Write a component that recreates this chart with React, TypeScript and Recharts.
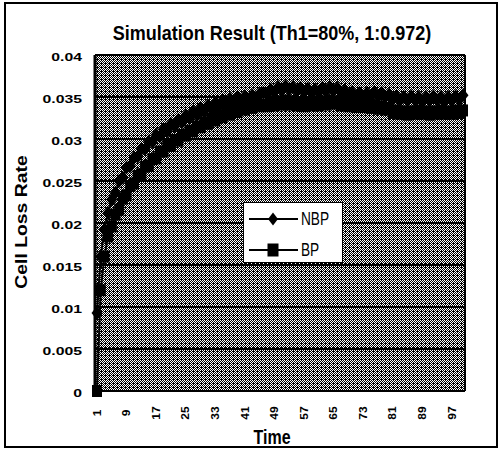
import React from 'react';
import { LineChart, Line, XAxis, YAxis, CartesianGrid, Legend, Customized } from 'recharts';

const title = 'Simulation Result (Th1=80%, 1:0.972)';
const xTitle = 'Time';
const yTitle = 'Cell Loss Rate';
const seriesNames = ['NBP', 'BP'];
const yTicks = [0, 0.005, 0.01, 0.015, 0.02, 0.025, 0.03, 0.035, 0.04];

const nbp = [
  0.0093, 0.016, 0.0192, 0.0212, 0.0228, 0.0236, 0.025, 0.0254, 0.0266, 0.0268,
  0.0278, 0.0279, 0.0288, 0.0288, 0.0297, 0.0296, 0.0305, 0.0303, 0.0312, 0.0309,
  0.0318, 0.0315, 0.0323, 0.032, 0.0328, 0.0325, 0.0333, 0.0329, 0.0337, 0.0333,
  0.034, 0.0336, 0.0343, 0.0339, 0.0346, 0.0341, 0.0348, 0.0343, 0.035, 0.0345,
  0.0351, 0.0347, 0.0352, 0.0349, 0.0354, 0.0355, 0.0353, 0.0359, 0.0356, 0.0362,
  0.0358, 0.0363, 0.0359, 0.0362, 0.0357, 0.0361, 0.0356, 0.036, 0.0355, 0.0359,
  0.0356, 0.0361, 0.0357, 0.0362, 0.0358, 0.0361, 0.0355, 0.0358, 0.0352, 0.0356,
  0.0351, 0.0355, 0.035, 0.0355, 0.0351, 0.0356, 0.0351, 0.0355, 0.035, 0.0353,
  0.0347, 0.0351, 0.0346, 0.035, 0.0346, 0.0351, 0.0346, 0.035, 0.0345, 0.035,
  0.0346, 0.0351, 0.0346, 0.035, 0.0345, 0.035, 0.0346, 0.0351, 0.0347, 0.0352,
];

const bp = [
  0.0, 0.012, 0.016, 0.0184, 0.0196, 0.021, 0.0216, 0.0229, 0.0233, 0.0244,
  0.0247, 0.0256, 0.0258, 0.0267, 0.0268, 0.0276, 0.0277, 0.0285, 0.0285, 0.0292,
  0.0292, 0.0299, 0.0298, 0.0305, 0.0304, 0.031, 0.0309, 0.0315, 0.0314, 0.032,
  0.0318, 0.0324, 0.0322, 0.0328, 0.0326, 0.0331, 0.0329, 0.0334, 0.0332, 0.0337,
  0.0335, 0.0339, 0.0337, 0.0341, 0.0339, 0.0341, 0.0339, 0.0343, 0.034, 0.0345,
  0.0341, 0.0346, 0.0341, 0.0345, 0.034, 0.0344, 0.0339, 0.0343, 0.034, 0.0344,
  0.034, 0.0345, 0.0341, 0.0346, 0.0342, 0.0345, 0.034, 0.0343, 0.0339, 0.0342,
  0.0338, 0.0341, 0.0338, 0.0341, 0.0337, 0.034, 0.0336, 0.0339, 0.0335, 0.0337,
  0.0331, 0.0334, 0.033, 0.0333, 0.0329, 0.0333, 0.033, 0.0334, 0.033, 0.0333,
  0.0329, 0.0333, 0.033, 0.0334, 0.033, 0.0333, 0.033, 0.0334, 0.0331, 0.0334,
];

const times = nbp.map((_, i) => i + 1);
const data = times.map((t, i) => ({ time: t, NBP: nbp[i], BP: bp[i] }));

const FONT = '"Liberation Sans", Arial, sans-serif';

function SText({ x, y, rot = 0, sx = 1, size, weight = 'bold', anchor = 'middle', children }: any) {
  return (
    <text
      transform={`translate(${x},${y}) rotate(${rot}) scale(${sx},1)`}
      textAnchor={anchor}
      dominantBaseline="central"
      fontSize={size}
      fontWeight={weight}
      fontFamily={FONT}
      fill="#000"
    >
      {children}
    </text>
  );
}

function Diamond({ cx, cy, w = 11, h = 14 }: any) {
  return <polygon points={`${cx},${cy - h / 2} ${cx + w / 2},${cy} ${cx},${cy + h / 2} ${cx - w / 2},${cy}`} fill="#000" />;
}
function Square({ cx, cy, w = 10, h = 12 }: any) {
  return <rect x={cx - w / 2} y={cy - h / 2} width={w} height={h} fill="#000" />;
}

const YTick = (props: any) => {
  const { x, y, payload } = props;
  return <SText x={x} y={y + 2} sx={1.5} size={10.5} anchor="end">{String(payload.value)}</SText>;
};
const XTick = (props: any) => {
  const { x, y, payload } = props;
  return <SText x={x} y={y + 22} rot={-90} sx={1.2} size={10}>{String(payload.value)}</SText>;
};

const LegendBox = () => (
  <div style={{ width: 98, height: 59, background: '#fff', border: '1px solid #000', position: 'relative' }}>
    <svg width={98} height={59} style={{ position: 'absolute', left: 0, top: 0 }}>
      <line x1={5} x2={54} y1={16} y2={16} stroke="#000" strokeWidth={2} />
      <Diamond cx={29} cy={16} w={10} h={13} />
      <SText x={57} y={16} sx={0.72} size={19} weight="normal" anchor="start">{seriesNames[0]}</SText>
      <line x1={5} x2={54} y1={47} y2={47} stroke="#000" strokeWidth={2} />
      <Square cx={29} cy={47} w={11} h={13} />
      <SText x={57} y={47} sx={0.72} size={19} weight="normal" anchor="start">{seriesNames[1]}</SText>
    </svg>
  </div>
);

const Decor = () => (
  <g>
    <rect x={5} y={3} width={492} height={444} fill="none" stroke="#000" strokeWidth={2} />
    <SText x={272} y={33} sx={0.9} size={20}>{title}</SText>
    <SText x={272} y={437} sx={0.8} size={20}>{xTitle}</SText>
    <SText x={21} y={222} rot={-90} sx={1.14} size={17}>{yTitle}</SText>
  </g>
);

export default function App() {
  return (
    <div style={{ position: 'absolute', left: 0, top: 0, width: 500, height: 450, background: '#fff' }}>
      <LineChart width={500} height={450} data={data} margin={{ top: 55, right: 0, bottom: 0, left: 0 }}>
        <defs>
          <pattern id="hatch" width="4" height="4" patternUnits="userSpaceOnUse">
            <rect width="4" height="4" fill="#000" />
            <rect x="0" y="0" width="1" height="1" fill="#fff" />
            <rect x="2" y="0" width="1" height="1" fill="#fff" />
            <rect x="1" y="1" width="1" height="1" fill="#fff" />
            <rect x="3" y="1" width="1" height="1" fill="#fff" />
            <rect x="0" y="2" width="1" height="1" fill="#fff" />
            <rect x="2" y="2" width="1" height="1" fill="#fff" />
            <rect x="3" y="3" width="1" height="1" fill="#fff" />
          </pattern>
        </defs>
        <CartesianGrid yAxisId="l" vertical={false} stroke="#000" strokeWidth={2} fill="url(#hatch)" fillOpacity={1} />
        <XAxis
          dataKey="time"
          height={59}
          interval={7}
          padding={{ left: 2, right: 2 }}
          tickLine={false}
          tickSize={0}
          tickMargin={0}
          axisLine={{ stroke: '#000', strokeWidth: 2 }}
          tick={<XTick />}
        />
        <YAxis
          yAxisId="l"
          width={95}
          domain={[0, 0.04]}
          ticks={yTicks}
          tickLine={false}
          tickSize={0}
          tickMargin={13}
          axisLine={{ stroke: '#000', strokeWidth: 3 }}
          tick={<YTick />}
        />
        <YAxis yAxisId="r" orientation="right" width={35} domain={[0, 0.04]} ticks={yTicks} tick={false} tickLine={false} axisLine={{ stroke: '#000', strokeWidth: 2 }} />
        <Line
          yAxisId="l"
          dataKey="NBP"
          stroke="#000"
          strokeWidth={2}
          isAnimationActive={false}
          dot={(p: any) => <Diamond key={`d${p.index}`} cx={p.cx} cy={p.cy} />}
        />
        <Line
          yAxisId="l"
          dataKey="BP"
          stroke="#000"
          strokeWidth={2}
          isAnimationActive={false}
          dot={(p: any) => <Square key={`s${p.index}`} cx={p.cx} cy={p.cy} />}
        />
        <Legend
          layout="vertical"
          align="center"
          verticalAlign="middle"
          content={<LegendBox />}
          wrapperStyle={{ position: 'absolute', left: 243, top: 202, width: 100, height: 61 }}
        />
        <Customized component={<Decor />} />
      </LineChart>
    </div>
  );
}
